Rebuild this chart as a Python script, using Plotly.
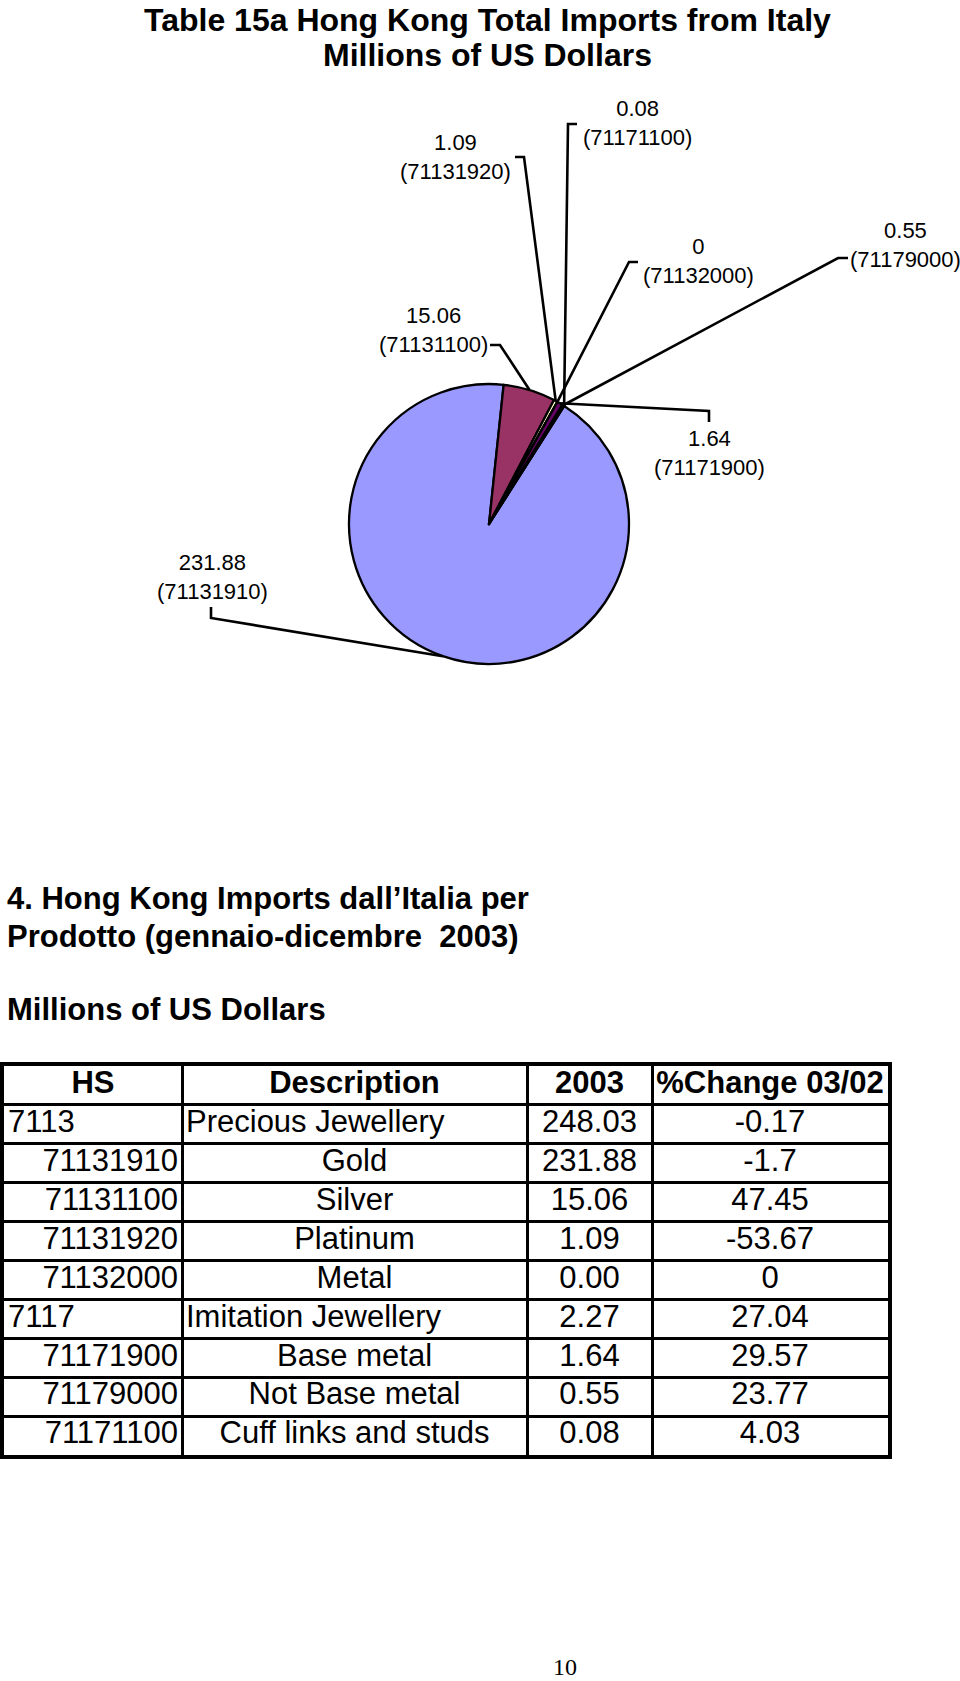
import math
import plotly.graph_objects as go

# ---------------- data ----------------
pie_codes = ["71131910", "71131100", "71131920", "71132000", "71171900", "71179000", "71171100"]
pie_values = [231.88, 15.06, 1.09, 0.0, 1.64, 0.55, 0.08]

table_headers = ["HS", "Description", "2003", "%Change 03/02"]
hs_codes = ["7113", "71131910", "71131100", "71131920", "71132000",
            "7117", "71171900", "71179000", "71171100"]
descriptions = ["Precious Jewellery", "Gold", "Silver", "Platinum", "Metal",
                "Imitation Jewellery", "Base metal", "Not Base metal", "Cuff links and studs"]
value_2003 = [248.03, 231.88, 15.06, 1.09, 0.00, 2.27, 1.64, 0.55, 0.08]
pct_change = [-0.17, -1.7, 47.45, -53.67, 0, 27.04, 29.57, 23.77, 4.03]

title_lines = ["Table 15a Hong Kong Total Imports from Italy", "Millions of US Dollars"]
heading_lines = ["4. Hong Kong Imports dall\u2019Italia per",
                 "Prodotto (gennaio-dicembre  2003)",
                 "Millions of US Dollars"]
page_number = "10"

# ---------------- layout / style constants ----------------
W, H = 960, 1681
FONT = "Liberation Sans, Arial, sans-serif"
pie_colors = ["#9999FF", "#993366", "#FFFFCC", "#CCFFFF", "#660066", "#FF8080", "#0066CC"]
PIE_CX, PIE_CY, PIE_R = 489, 524, 140
PIE_ROTATION = 32.5

# label placement (pixels): label centre, elbow point, tick end
label_layout = {
    "71131910": dict(c=(212, 577), elbow=(211, 618), tick=(211, 607)),
    "71131100": dict(c=(433, 330), elbow=(500, 345), tick=(490, 345)),
    "71131920": dict(c=(455, 157), elbow=(524, 157), tick=(515, 157)),
    "71132000": dict(c=(698, 261), elbow=(629, 262), tick=(638, 262)),
    "71171900": dict(c=(709, 453), elbow=(709, 411), tick=(709, 422)),
    "71179000": dict(c=(905, 245), elbow=(838, 258), tick=(848, 258)),
    "71171100": dict(c=(637, 123), elbow=(568, 124), tick=(577, 124)),
}

col_edges = [4, 182, 527, 652, 888]
TABLE_TOP, TABLE_BOTTOM = 1066, 1455
CELL_PAD = 4
TABLE_FONT = 31


def px(x):
    return x / W


def py(y):
    return 1 - y / H


fig = go.Figure()

# ---------------- pie ----------------
fig.add_trace(go.Pie(
    labels=pie_codes,
    values=pie_values,
    sort=False,
    direction="clockwise",
    rotation=PIE_ROTATION,
    marker=dict(colors=pie_colors, line=dict(color="black", width=2.3)),
    textinfo="none",
    hoverinfo="label+value",
    showlegend=False,
    domain=dict(x=[px(PIE_CX - PIE_R), px(PIE_CX + PIE_R)],
                y=[py(PIE_CY + PIE_R), py(PIE_CY - PIE_R)]),
))

shapes = []
annotations = []

total = sum(pie_values)
angle = PIE_ROTATION
for code, v in zip(pie_codes, pie_values):
    span = v / total * 360.0
    mid = math.radians(angle + span / 2)
    angle += span
    ex = PIE_CX + PIE_R * math.sin(mid)
    ey = PIE_CY - PIE_R * math.cos(mid)
    lay = label_layout[code]
    (bx, by), (tx, ty) = lay["elbow"], lay["tick"]
    path = "M {:.5f},{:.5f} L {:.5f},{:.5f} L {:.5f},{:.5f}".format(
        px(ex), py(ey), px(bx), py(by), px(tx), py(ty))
    shapes.append(dict(type="path", path=path, xref="paper", yref="paper",
                       line=dict(color="black", width=2.6), layer="above"))
    cx, cy = lay["c"]
    annotations.append(dict(
        text="{:g}<br>({})".format(v, code), x=px(cx), y=py(cy),
        xref="paper", yref="paper", showarrow=False,
        xanchor="center", yanchor="middle", align="center",
        font=dict(family=FONT, size=22, color="black")))

# ---------------- titles / headings ----------------
annotations.append(dict(text="<b>%s</b>" % title_lines[0], x=px(487), y=1.0,
                        xref="paper", yref="paper", showarrow=False,
                        xanchor="center", yanchor="top",
                        font=dict(family=FONT, size=32, color="black")))
annotations.append(dict(text="<b>%s</b>" % title_lines[1], x=px(487), y=py(55),
                        xref="paper", yref="paper", showarrow=False,
                        xanchor="center", yanchor="middle",
                        font=dict(family=FONT, size=32, color="black")))
for txt, yy in zip(heading_lines, [898, 936, 1009]):
    annotations.append(dict(text="<b>%s</b>" % txt, x=px(5), y=py(yy),
                            xref="paper", yref="paper", showarrow=False,
                            xanchor="left", yanchor="middle",
                            font=dict(family=FONT, size=31, color="black")))
annotations.append(dict(text=page_number, x=px(565), y=py(1667),
                        xref="paper", yref="paper", showarrow=False,
                        xanchor="center", yanchor="middle",
                        font=dict(family="Liberation Serif, Times New Roman, serif",
                                  size=24, color="black")))

# ---------------- table (cartesian text grid) ----------------
n_rows = len(hs_codes) + 1
xs, ys, texts, positions = [], [], [], []


def centre(c):
    return (col_edges[c] + col_edges[c + 1]) / 2


for c, htxt in enumerate(table_headers):
    xs.append(centre(c)); ys.append(0)
    texts.append("<b>%s</b>" % htxt); positions.append("middle center")

for i, code in enumerate(hs_codes):
    r = i + 1
    parent = len(code) == 4
    if parent:
        xs.append(col_edges[0] + CELL_PAD); positions.append("middle right")
    else:
        xs.append(col_edges[1] - CELL_PAD); positions.append("middle left")
    ys.append(r); texts.append(code)
    if parent:
        xs.append(col_edges[1] + CELL_PAD); positions.append("middle right")
    else:
        xs.append(centre(1)); positions.append("middle center")
    ys.append(r); texts.append(descriptions[i])
    xs.append(centre(2)); ys.append(r); texts.append("{:.2f}".format(value_2003[i]))
    positions.append("middle center")
    xs.append(centre(3)); ys.append(r); texts.append("{:g}".format(pct_change[i]))
    positions.append("middle center")

fig.add_trace(go.Scatter(
    x=xs, y=ys, text=texts, mode="text", textposition=positions,
    textfont=dict(family=FONT, size=TABLE_FONT, color="black"),
    hoverinfo="skip", showlegend=False, cliponaxis=False,
    xaxis="x", yaxis="y"))

fig.update_layout(
    width=W, height=H, autosize=False,
    margin=dict(l=0, r=0, t=0, b=0, pad=0),
    paper_bgcolor="white", plot_bgcolor="white",
    shapes=shapes, annotations=annotations,
    xaxis=dict(domain=[px(col_edges[0]), px(col_edges[-1])],
               range=[col_edges[0], col_edges[-1]],
               tickmode="array", tickvals=col_edges[1:-1],
               showgrid=True, gridcolor="black", gridwidth=2.5,
               zeroline=False, showticklabels=False, ticks="",
               showline=True, linecolor="black", linewidth=3.5, mirror=True,
               fixedrange=True),
    yaxis=dict(domain=[py(TABLE_BOTTOM), py(TABLE_TOP)],
               range=[n_rows - 0.5, -0.5],
               tickmode="array", tickvals=[k + 0.5 for k in range(n_rows - 1)],
               showgrid=True, gridcolor="black", gridwidth=2.5,
               zeroline=False, showticklabels=False, ticks="",
               showline=True, linecolor="black", linewidth=3.5, mirror=True,
               fixedrange=True),
)

fig.write_html("out.html")
